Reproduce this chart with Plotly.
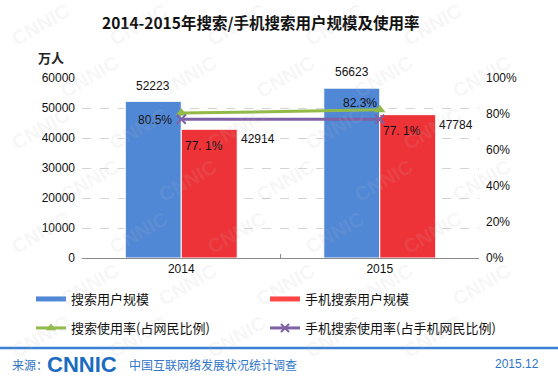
import plotly.graph_objects as go

years = ["2014", "2015"]
search_users = [52223, 56623]
mobile_users = [42914, 47784]
search_rate = [0.805, 0.823]
mobile_rate = [0.771, 0.771]
search_rate_labels = ["80.5%", "82.3%"]
mobile_rate_labels = ["77. 1%", "77. 1%"]
left_ticks = [0, 10000, 20000, 30000, 40000, 50000, 60000]
right_ticks = [0, 0.2, 0.4, 0.6, 0.8, 1.0]

BLUE = "#5088d6"
RED = "#ee3338"
GREEN = "#92ba48"
PURPLE = "#7f62a6"
FOOT = "#2f75c9"
FONT = "Liberation Sans, Noto Sans CJK SC, sans-serif"
CJK = "Noto Sans CJK SC, sans-serif"

W, H = 558, 381
L, R, T, B = 82, 79, 78, 123
PW, PH = W - L - R, H - T - B


def px(xp):
    return (xp - L) / PW


def py(yp):
    return (H - B - yp) / PH


fig = go.Figure()
fig.add_trace(go.Bar(x=years, y=search_users, name="搜索用户规模", marker_color=BLUE,
                     marker_line=dict(color="white", width=1), showlegend=False))
fig.add_trace(go.Bar(x=years, y=mobile_users, name="手机搜索用户规模", marker_color=RED,
                     marker_line=dict(color="white", width=1), showlegend=False))
fig.add_trace(go.Scatter(x=years, y=search_rate, yaxis="y2", mode="lines+markers",
                         line=dict(color=GREEN, width=3),
                         marker=dict(symbol="triangle-up", size=10, color=GREEN),
                         showlegend=False))
fig.add_trace(go.Scatter(x=years, y=mobile_rate, yaxis="y2", mode="lines+markers",
                         line=dict(color=PURPLE, width=3),
                         marker=dict(symbol="x-thin", size=9, line=dict(color=PURPLE, width=2)),
                         showlegend=False))

# legend-only entries (no visible data)
nones = [None] * len(years)
fig.add_trace(go.Scatter(x=years, y=nones, mode="lines", name="搜索用户规模",
                         line=dict(color=BLUE, width=5), legend="legend"))
fig.add_trace(go.Scatter(x=years, y=nones, mode="lines", name="手机搜索用户规模",
                         line=dict(color="#ff4444", width=5), legend="legend"))
fig.add_trace(go.Scatter(x=years, y=nones, yaxis="y2", mode="lines+markers", name="搜索使用率(占网民比例)",
                         line=dict(color=GREEN, width=3),
                         marker=dict(symbol="triangle-up", size=9, color=GREEN), legend="legend2"))
fig.add_trace(go.Scatter(x=years, y=nones, yaxis="y2", mode="lines+markers",
                         name="手机搜索使用率(占手机网民比例)",
                         line=dict(color=PURPLE, width=3),
                         marker=dict(symbol="x-thin", size=8, line=dict(color=PURPLE, width=2)),
                         legend="legend2"))

ann = []
lab_font = dict(family=FONT, size=12, color="#111")
for i, yr in enumerate(years):
    ann.append(dict(x=i, y=search_users[i], text=str(search_users[i]), showarrow=False,
                    xshift=-28, yshift=15 if i == 0 else 16, font=lab_font))
    ann.append(dict(x=i, y=mobile_users[i], text=str(mobile_users[i]), showarrow=False,
                    xshift=77 if i == 0 else 76, yshift=-10, font=lab_font))
ann.append(dict(x=0, y=search_rate[0], yref="y2", text=search_rate_labels[0], showarrow=False,
                xshift=-26, yshift=-7, font=lab_font))
ann.append(dict(x=1, y=search_rate[1], yref="y2", text=search_rate_labels[1], showarrow=False,
                xshift=-20, yshift=7, font=lab_font))
ann.append(dict(x=0, y=mobile_rate[0], yref="y2", text=mobile_rate_labels[0], showarrow=False,
                xshift=23, yshift=-27, font=lab_font))
ann.append(dict(x=1, y=mobile_rate[1], yref="y2", text=mobile_rate_labels[1], showarrow=False,
                xshift=22, yshift=-12, font=lab_font))


def paper_text(x, y, text, font, xanchor="center", **kw):
    ann.append(dict(xref="paper", yref="paper", x=px(x), y=py(y), text=text, showarrow=False,
                    xanchor=xanchor, yanchor="middle", font=font, **kw))


# title
paper_text(260, 22, "<b>2014-2015年搜索/手机搜索用户规模及使用率</b>",
           dict(family=CJK, size=15.5, color="#111"))

# unit label
paper_text(51, 58, "<b>万人</b>", dict(family=CJK, size=13, color="#222"))

# footer
paper_text(10, 364, "来源：", dict(family=CJK, size=12, color=FOOT), xanchor="left")
paper_text(45, 364, "<b>CNNIC</b>", dict(family="Liberation Sans, sans-serif", size=22, color="#1b6cc0"),
           xanchor="left")
paper_text(127, 364, "中国互联网络发展状况统计调查", dict(family=CJK, size=12, color=FOOT), xanchor="left")
paper_text(541, 364, "2015.12", dict(family=FONT, size=12, color=FOOT), xanchor="right")

# faint watermarks
for r in range(7):
    for c in range(6):
        wx = 40 + c * 98 + (r % 2) * 49
        wy = 25 + r * 52
        if wx > 525:
            continue
        paper_text(wx, wy, "<b>CNNIC</b>",
                   dict(family="Liberation Sans, sans-serif", size=20, color="rgba(190,190,190,0.12)"),
                   textangle=-30)

shapes = [dict(type="line", xref="paper", yref="paper", x0=px(0), x1=px(W), y0=py(348), y1=py(348),
               line=dict(color="#3b80d4", width=2.5))]

leg_common = dict(orientation="h", xanchor="left", yanchor="middle",
                  entrywidth=189, font=dict(family=CJK, size=13, color="#111"),
                  bgcolor="rgba(0,0,0,0)")

fig.update_layout(
    width=W, height=H,
    margin=dict(l=L, r=R, t=T, b=B, autoexpand=False),
    paper_bgcolor="white", plot_bgcolor="white",
    barmode="group", bargap=0.436, bargroupgap=0,
    xaxis=dict(type="category", categoryorder="array", categoryarray=years, range=[-0.5, 1.5],
               showline=True, linecolor="#8a8a8a", linewidth=1,
               ticks="inside", tickson="boundaries", ticklen=4, tickcolor="#8a8a8a",
               tickfont=dict(family=FONT, size=12, color="#111"), showgrid=False),
    yaxis=dict(range=[0, 60000], tickvals=left_ticks, tickformat="d", showgrid=True, gridcolor="#d4d4d4",
               griddash="dash", zeroline=False, showline=False,
               tickfont=dict(family=FONT, size=12, color="#111"), ticklabelstandoff=6),
    yaxis2=dict(range=[0, 1], tickvals=right_ticks, tickformat=".0%", overlaying="y", side="right",
                showgrid=False, zeroline=False, showline=False,
                tickfont=dict(family=FONT, size=12, color="#111"), ticklabelstandoff=6),
    legend=dict(x=px(31), y=py(299), **leg_common),
    legend2=dict(x=px(31), y=py(328), **leg_common),
    annotations=ann, shapes=shapes,
)

fig.write_html("out.html", config={"displayModeBar": False},
               post_script="document.body.style.margin='0';")
